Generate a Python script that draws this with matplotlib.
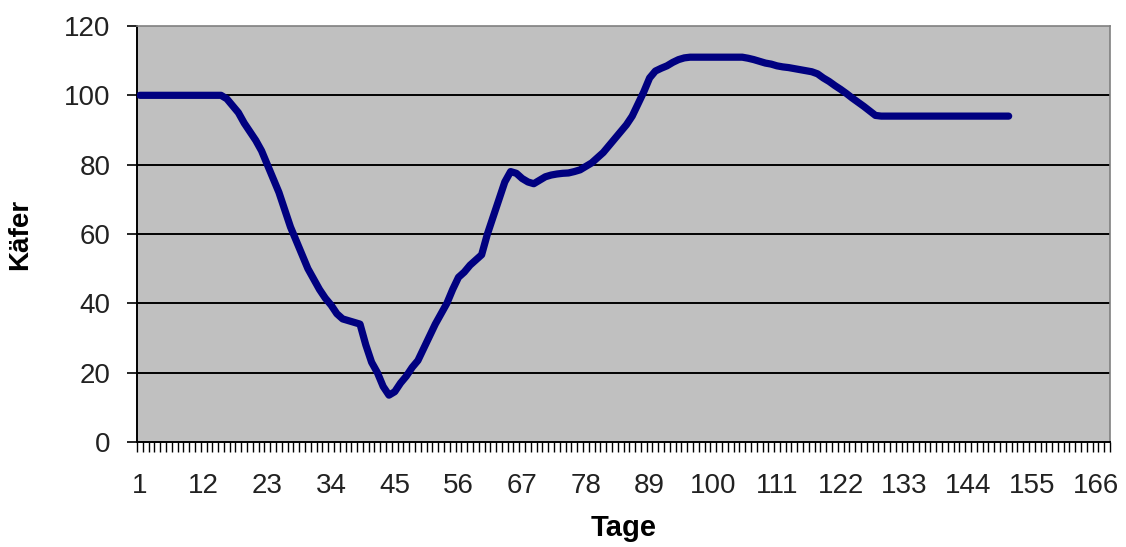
import matplotlib
matplotlib.use("Agg")
from matplotlib import pyplot as plt
from matplotlib.ticker import FixedLocator

plt.rcParams['font.family'] = ['Liberation Sans', 'DejaVu Sans']

# Käfer count per day (days 1..151)
days = list(range(1, 152))
kaefer = [
    100, 100, 100, 100, 100, 100, 100, 100, 100, 100,
    100, 100, 100, 100, 100, 99, 97, 95, 92, 89.5,
    87, 84, 80, 76, 72, 67, 62, 58, 54, 50,
    47, 44, 41.5, 39.5, 37, 35.5, 35, 34.5, 34, 28,
    23, 20, 16, 13.5, 14.5, 17, 19, 21.5, 23.5, 27,
    30.5, 34, 37, 40, 44, 47.5, 49, 51, 52.5, 54,
    60, 65, 70, 75, 78, 77.5, 76, 75, 74.5, 75.5,
    76.5, 77, 77.3, 77.5, 77.6, 78, 78.5, 79.5, 80.5, 82,
    83.5, 85.5, 87.5, 89.5, 91.5, 94, 97.5, 101, 105, 107,
    107.8, 108.5, 109.5, 110.3, 110.8, 111, 111, 111, 111, 111,
    111, 111, 111, 111, 111, 110.7, 110.3, 109.8, 109.3, 109,
    108.5, 108.2, 108, 107.7, 107.4, 107.1, 106.8, 106.2, 105, 104,
    102.8, 101.7, 100.5, 99.2, 98, 96.8, 95.5, 94.2, 94, 94,
    94, 94, 94, 94, 94, 94, 94, 94, 94, 94,
    94, 94, 94, 94, 94, 94, 94, 94, 94, 94,
    94,
]
n_categories = 168
x_labels = list(range(1, 167, 11))
y_ticks = [0, 20, 40, 60, 80, 100, 120]

fig = plt.figure(figsize=(11.26, 5.47), dpi=100)
ax = fig.add_axes([0.1217, 0.192, 0.8641, 0.7605])
ax.set_facecolor('#c0c0c0')

# horizontal gridlines like an old Excel chart
for y in y_ticks[1:-1]:
    ax.axhline(y, color='black', linewidth=1.4, zorder=1)

ax.plot(days, kaefer, color='#000080', linewidth=5.2,
        solid_joinstyle='round', solid_capstyle='round', zorder=3)

ax.set_xlim(0.5, n_categories + 0.5)
ax.set_ylim(0, 120)

ax.set_yticks(y_ticks)
ax.tick_params(axis='y', direction='out', length=7, width=1.2,
               labelsize=20, labelcolor='#222222', pad=12)

ax.xaxis.set_major_locator(FixedLocator(x_labels))
ax.set_xticklabels([str(v) for v in x_labels])
ax.xaxis.set_minor_locator(FixedLocator([k + 0.5 for k in range(0, n_categories + 1)]))
ax.tick_params(axis='x', which='major', length=0, labelsize=20,
               labelcolor='#222222', pad=22)
ax.tick_params(axis='x', which='minor', direction='out', length=7, width=1.0)

for side in ('left', 'bottom'):
    ax.spines[side].set_color('black')
    ax.spines[side].set_linewidth(1.4)
for side in ('top', 'right'):
    ax.spines[side].set_color('#808080')
    ax.spines[side].set_linewidth(1.2)

ax.set_ylabel('Käfer', fontsize=20, fontweight='bold', labelpad=22)
ax.set_xlabel('Tage', fontsize=21, fontweight='bold', labelpad=11)

fig.savefig('out.png', dpi=100)
